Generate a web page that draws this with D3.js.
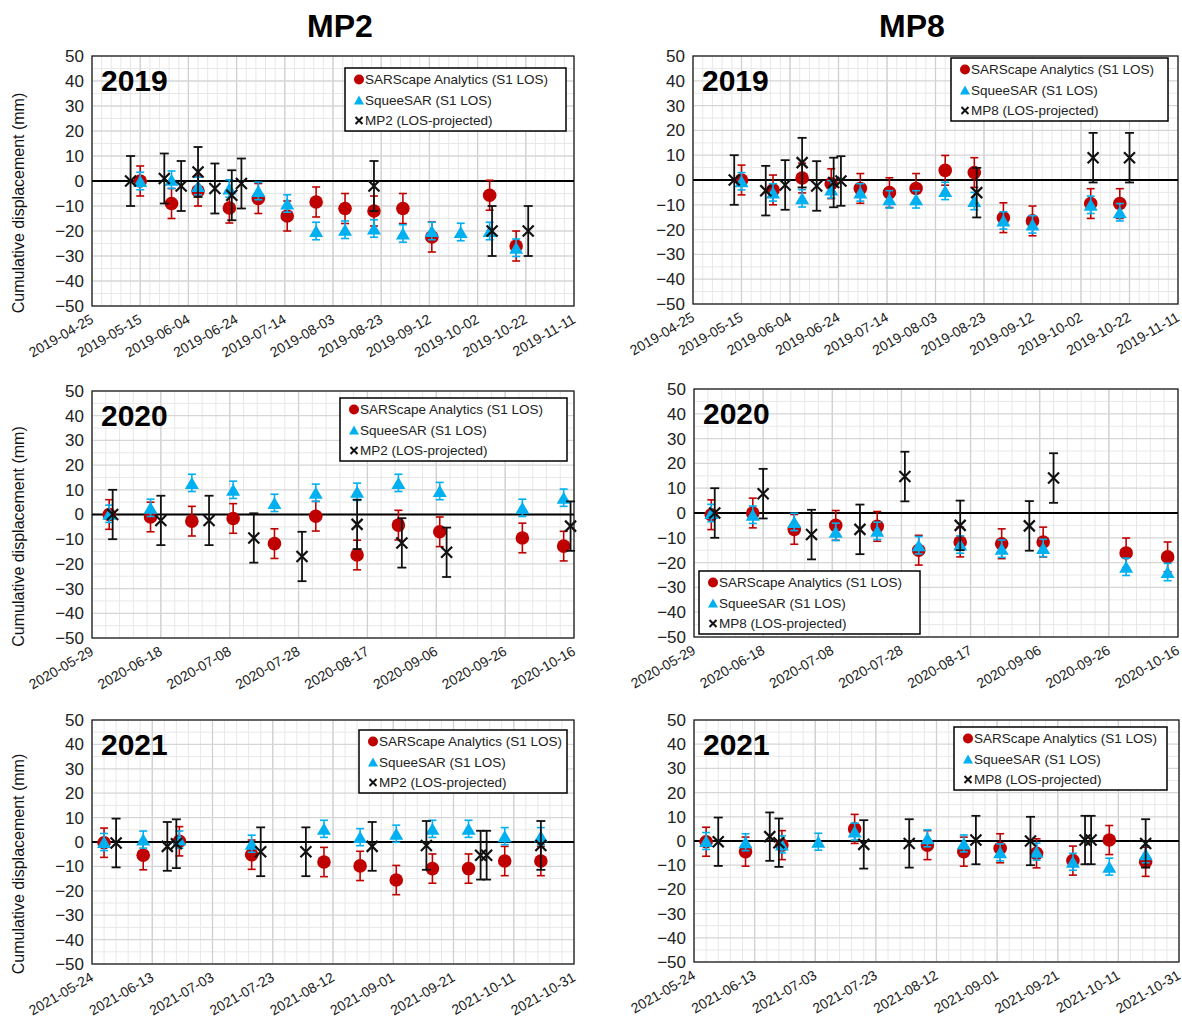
<!DOCTYPE html>
<html><head><meta charset="utf-8">
<script src="https://cdn.jsdelivr.net/npm/d3@7/dist/d3.min.js"></script>
<style>
body{margin:0;background:#fff;}
svg text{font-family:Arial,"Liberation Sans",sans-serif;}
</style></head><body>
<svg id="chart" width="1182" height="1034"></svg>
<script>
// ---- series names and error half-widths (mm) ----
const seriesLabels = ["SARScape Analytics (S1 LOS)", "SqueeSAR (S1 LOS)", "(LOS-projected)"];
const seriesErrors = [6, 3.5, 10];
const yTicks = [-50, -40, -30, -20, -10, 0, 10, 20, 30, 40, 50];

// ---- x tick labels per year ----
const ticks2019 = ["2019-04-25","2019-05-15","2019-06-04","2019-06-24","2019-07-14","2019-08-03","2019-08-23","2019-09-12","2019-10-02","2019-10-22","2019-11-11"];
const ticks2020 = ["2020-05-29","2020-06-18","2020-07-08","2020-07-28","2020-08-17","2020-09-06","2020-09-26","2020-10-16"];
const ticks2021 = ["2021-05-24","2021-06-13","2021-07-03","2021-07-23","2021-08-12","2021-09-01","2021-09-21","2021-10-11","2021-10-31"];

// ---- MP2 2019 ----
const mp2_2019_sar = [["2019-05-15",0],["2019-05-28",-9],["2019-06-08",-4],["2019-06-21",-10.8],["2019-07-03",-7],["2019-07-15",-14],["2019-07-27",-8.4],["2019-08-08",-11],["2019-08-20",-12],["2019-09-01",-11],["2019-09-13",-22.4],["2019-10-07",-5.7],["2019-10-18",-26]];
const mp2_2019_sqee = [["2019-05-15",0],["2019-05-28",0.5],["2019-06-08",-2],["2019-06-21",-3],["2019-07-03",-4],["2019-07-15",-9],["2019-07-27",-20],["2019-08-08",-19.5],["2019-08-20",-19],["2019-09-01",-21],["2019-09-13",-20],["2019-09-25",-20.4],["2019-10-07",-20],["2019-10-18",-26.7]];
const mp2_2019_los = [["2019-05-11",0],["2019-05-25",1],["2019-06-01",-2],["2019-06-08",3.6],["2019-06-15",-3],["2019-06-22",-5.7],["2019-06-26",-1],["2019-08-20",-2],["2019-10-08",-20],["2019-10-23",-20]];

// ---- MP8 2019 ----
const mp8_2019_sar = [["2019-05-15",0],["2019-05-28",-4],["2019-06-09",0.8],["2019-06-21",-1.5],["2019-07-03",-3.4],["2019-07-15",-5.1],["2019-07-26",-3.4],["2019-08-07",3.9],["2019-08-19",3],["2019-08-31",-15.2],["2019-09-12",-16.5],["2019-10-06",-9.5],["2019-10-18",-9.5]];
const mp8_2019_sqee = [["2019-05-15",-0.5],["2019-05-28",-5],["2019-06-09",-7.4],["2019-06-21",-3.8],["2019-07-03",-5],["2019-07-15",-7.8],["2019-07-26",-7.8],["2019-08-07",-4.4],["2019-08-19",-8.5],["2019-08-31",-16.3],["2019-09-12",-17.9],["2019-10-06",-10],["2019-10-18",-13]];
const mp8_2019_los = [["2019-05-12",0],["2019-05-25",-4.3],["2019-06-02",-2],["2019-06-09",7],["2019-06-15",-2.4],["2019-06-22",-1],["2019-06-25",-0.4],["2019-08-20",-5.1],["2019-10-07",9],["2019-10-22",9]];

// ---- MP2 2020 ----
const mp2_2020_sar = [["2020-06-03",0],["2020-06-15",-1],["2020-06-27",-2.7],["2020-07-09",-1.6],["2020-07-21",-11.8],["2020-08-02",-0.7],["2020-08-14",-16.4],["2020-08-26",-4.3],["2020-09-07",-7],["2020-10-01",-9.5],["2020-10-13",-12.8]];
const mp2_2020_sqee = [["2020-06-03",0.3],["2020-06-15",2.7],["2020-06-27",12.8],["2020-07-09",10],["2020-07-21",4.7],["2020-08-02",8.8],["2020-08-14",9.2],["2020-08-26",12.8],["2020-09-07",9.5],["2020-10-01",2.7],["2020-10-13",6.8]];
const mp2_2020_los = [["2020-06-04",0],["2020-06-18",-2.4],["2020-07-02",-2.4],["2020-07-15",-9.5],["2020-07-29",-17],["2020-08-14",-4],["2020-08-27",-11.5],["2020-09-09",-15.3],["2020-10-15",-4.7]];

// ---- MP8 2020 ----
const mp8_2020_sar = [["2020-06-03",-0.7],["2020-06-15",0],["2020-06-27",-6.6],["2020-07-09",-5],["2020-07-21",-5.4],["2020-08-02",-15],["2020-08-14",-11.7],["2020-08-26",-12.4],["2020-09-07",-11.7],["2020-10-01",-16.1],["2020-10-13",-17.7]];
const mp8_2020_sqee = [["2020-06-03",0],["2020-06-15",-0.7],["2020-06-27",-3.6],["2020-07-09",-7.6],["2020-07-21",-7.2],["2020-08-02",-13],["2020-08-14",-12.7],["2020-08-26",-14.4],["2020-09-07",-14.1],["2020-10-01",-21.7],["2020-10-13",-23.8]];
const mp8_2020_los = [["2020-06-04",0],["2020-06-18",7.8],["2020-07-02",-8.7],["2020-07-16",-6.6],["2020-07-29",14.7],["2020-08-14",-5],["2020-09-03",-5.2],["2020-09-10",14.1]];

// ---- MP2 2021 ----
const mp2_2021_sar = [["2021-05-28",-0.3],["2021-06-10",-5.4],["2021-06-22",0.3],["2021-07-16",-5.2],["2021-08-09",-8.2],["2021-08-21",-9.8],["2021-09-02",-15.6],["2021-09-14",-10.9],["2021-09-26",-10.9],["2021-10-08",-7.8],["2021-10-20",-7.8]];
const mp2_2021_sqee = [["2021-05-28",0],["2021-06-10",1],["2021-06-22",1],["2021-07-16",-0.7],["2021-08-09",5.4],["2021-08-21",2],["2021-09-02",3.4],["2021-09-14",5.4],["2021-09-26",5.4],["2021-10-08",2.4],["2021-10-20",2.4]];
const mp2_2021_los = [["2021-06-01",-0.4],["2021-06-18",-1.8],["2021-06-21",-0.7],["2021-07-19",-4],["2021-08-03",-4],["2021-08-25",-1.8],["2021-09-12",-1.4],["2021-09-30",-5.4],["2021-10-02",-5.4],["2021-10-20",-1.4]];

// ---- MP8 2021 ----
const mp8_2021_sar = [["2021-05-28",-0.3],["2021-06-10",-4.4],["2021-06-22",-1.7],["2021-07-16",5],["2021-08-09",-1.7],["2021-08-21",-4.4],["2021-09-02",-3],["2021-09-14",-5.1],["2021-09-26",-8.1],["2021-10-08",0.4],["2021-10-20",-8.6]];
const mp8_2021_sqee = [["2021-05-28",0],["2021-06-10",-0.5],["2021-06-22",-1.4],["2021-07-04",-0.3],["2021-07-16",3.9],["2021-08-09",1.1],["2021-08-21",-1],["2021-09-02",-4.7],["2021-09-14",-4.4],["2021-09-26",-8.6],["2021-10-08",-10.6],["2021-10-20",-5.5]];
const mp8_2021_los = [["2021-06-01",-0.3],["2021-06-18",1.8],["2021-06-21",-0.7],["2021-07-19",-1.4],["2021-08-03",-1],["2021-08-25",0.4],["2021-09-12",0],["2021-09-30",0.4],["2021-10-02",0.4],["2021-10-20",-1]];

// ---- layout ----
const parse = d3.timeParse("%Y-%m-%d");
const C_RED = "#c00000", C_BLUE = "#00b0f0", C_BLACK = "#111";
const svg = d3.select("#chart");

const panels = [
  {pt:"MP2", year:"2019", ticks:ticks2019, data:[mp2_2019_sar,mp2_2019_sqee,mp2_2019_los], box:[92,56,574,306], legend:[345,68,221], yTitle:true},
  {pt:"MP8", year:"2019", ticks:ticks2019, data:[mp8_2019_sar,mp8_2019_sqee,mp8_2019_los], box:[693,56,1178,304], legend:[951,58,217], yTitle:false},
  {pt:"MP2", year:"2020", ticks:ticks2020, data:[mp2_2020_sar,mp2_2020_sqee,mp2_2020_los], box:[92,391,574,638], legend:[340,398,227], yTitle:true},
  {pt:"MP8", year:"2020", ticks:ticks2020, data:[mp8_2020_sar,mp8_2020_sqee,mp8_2020_los], box:[694,389,1178,637], legend:[699,571,221], yTitle:false},
  {pt:"MP2", year:"2021", ticks:ticks2021, data:[mp2_2021_sar,mp2_2021_sqee,mp2_2021_los], box:[92,720,574,964], legend:[359,730,208], yTitle:true},
  {pt:"MP8", year:"2021", ticks:ticks2021, data:[mp8_2021_sar,mp8_2021_sqee,mp8_2021_los], box:[694,720,1179,962], legend:[954,727,213], yTitle:false}
];

function triPath(w, h) {
  return `M0,${-h/2}L${w/2},${h/2}L${-w/2},${h/2}Z`;
}

function drawPanel(p) {
  const [x0, y0, x1, y1] = p.box;
  const g = svg.append("g");
  const tickDates = p.ticks.map(parse);
  const x = d3.scaleTime().domain([tickDates[0], tickDates[tickDates.length - 1]]).range([x0, x1]);
  const y = d3.scaleLinear().domain([-50, 50]).range([y1, y0]);

  // minor grid: every 4 days and every 5 mm
  const minorX = d3.timeDay.range(tickDates[0], d3.timeDay.offset(tickDates[tickDates.length - 1], 1), 4);
  const minorY = d3.range(-45, 50, 10);
  g.append("g").selectAll("line").data(minorX).join("line")
    .attr("x1", d => x(d)).attr("x2", d => x(d)).attr("y1", y0).attr("y2", y1)
    .attr("stroke", "#e8e8e8").attr("stroke-width", 1);
  g.append("g").selectAll("line").data(minorY).join("line")
    .attr("x1", x0).attr("x2", x1).attr("y1", d => y(d)).attr("y2", d => y(d))
    .attr("stroke", "#e8e8e8").attr("stroke-width", 1);
  // major grid
  g.append("g").selectAll("line").data(tickDates).join("line")
    .attr("x1", d => x(d)).attr("x2", d => x(d)).attr("y1", y0).attr("y2", y1)
    .attr("stroke", "#d0d0d0").attr("stroke-width", 1.3);
  g.append("g").selectAll("line").data(yTicks).join("line")
    .attr("x1", x0).attr("x2", x1).attr("y1", d => y(d)).attr("y2", d => y(d))
    .attr("stroke", "#d6d6d6").attr("stroke-width", 1.3);

  // frame
  g.append("rect").attr("x", x0).attr("y", y0).attr("width", x1 - x0).attr("height", y1 - y0)
    .attr("fill", "none").attr("stroke", "#222").attr("stroke-width", 1.3);

  // zero line
  g.append("line").attr("x1", x0).attr("x2", x1).attr("y1", y(0)).attr("y2", y(0))
    .attr("stroke", "#000").attr("stroke-width", 2.2);

  // y axis
  const ya = g.append("g").attr("transform", `translate(${x0},0)`)
    .call(d3.axisLeft(y).tickValues(yTicks).tickSize(0).tickPadding(8));
  ya.select(".domain").remove();
  ya.selectAll("text").attr("font-size", 17).attr("fill", "#222")
    .attr("font-family", "Arial, 'Liberation Sans', sans-serif");

  // x axis
  const xa = g.append("g").attr("transform", `translate(0,${y1})`)
    .call(d3.axisBottom(x).tickValues(tickDates).tickFormat(d3.timeFormat("%Y-%m-%d")).tickSize(0).tickPadding(0));
  xa.select(".domain").remove();
  xa.selectAll("text").attr("font-size", 14).attr("fill", "#222")
    .attr("font-family", "Arial, 'Liberation Sans', sans-serif")
    .attr("text-anchor", "end").attr("dy", null).attr("y", 0)
    .attr("transform", "translate(2,16) rotate(-30)");

  // y title
  if (p.yTitle) {
    svg.append("text").attr("transform", `translate(24,${(y0 + y1) / 2 + 22}) rotate(-90)`)
      .attr("text-anchor", "middle").attr("font-size", 16).attr("fill", "#111")
      .text("Cumulative displacement (mm)");
  }

  // year label
  g.append("text").attr("x", x0 + 9).attr("y", y0 + 35).attr("font-size", 30)
    .attr("font-weight", "bold").attr("fill", "#000").text(p.year);

  const pts = p.data.map(s => s.map(([d, v]) => ({d: parse(d), v})));
  const colors = [C_RED, C_BLUE, C_BLACK];
  const capW = [4, 4, 4.5];

  function errorBars(i) {
    const e = seriesErrors[i];
    const eg = g.append("g").attr("stroke", colors[i]).attr("stroke-width", i === 2 ? 1.8 : 1.6);
    eg.selectAll("line.v").data(pts[i]).join("line")
      .attr("x1", d => x(d.d)).attr("x2", d => x(d.d)).attr("y1", d => y(d.v - e)).attr("y2", d => y(d.v + e));
    eg.selectAll("line.t").data(pts[i]).join("line")
      .attr("x1", d => x(d.d) - capW[i]).attr("x2", d => x(d.d) + capW[i]).attr("y1", d => y(d.v + e)).attr("y2", d => y(d.v + e));
    eg.selectAll("line.b").data(pts[i]).join("line")
      .attr("x1", d => x(d.d) - capW[i]).attr("x2", d => x(d.d) + capW[i]).attr("y1", d => y(d.v - e)).attr("y2", d => y(d.v - e));
  }

  // SARScape
  errorBars(0);
  g.append("g").selectAll("circle").data(pts[0]).join("circle")
    .attr("cx", d => x(d.d)).attr("cy", d => y(d.v)).attr("r", 6.8).attr("fill", C_RED);
  // SqueeSAR
  errorBars(1);
  g.append("g").selectAll("path").data(pts[1]).join("path")
    .attr("d", triPath(14, 12)).attr("transform", d => `translate(${x(d.d)},${y(d.v)})`).attr("fill", C_BLUE);
  // LOS-projected
  errorBars(2);
  const xs = 5.5;
  g.append("g").selectAll("path").data(pts[2]).join("path")
    .attr("d", `M${-xs},${-xs}L${xs},${xs}M${-xs},${xs}L${xs},${-xs}`)
    .attr("transform", d => `translate(${x(d.d)},${y(d.v)})`)
    .attr("stroke", C_BLACK).attr("stroke-width", 2.2).attr("fill", "none");

  // legend
  const [lx, ly, lw] = p.legend;
  const lg = g.append("g");
  lg.append("rect").attr("x", lx).attr("y", ly).attr("width", lw).attr("height", 63)
    .attr("fill", "#fff").attr("stroke", "#000").attr("stroke-width", 1.5);
  const rowY = [ly + 11.5, ly + 32, ly + 52.5];
  const mx = lx + 14, tx = lx + 20;
  lg.append("circle").attr("cx", mx).attr("cy", rowY[0]).attr("r", 5).attr("fill", C_RED);
  lg.append("path").attr("d", triPath(10, 9)).attr("transform", `translate(${mx},${rowY[1]})`).attr("fill", C_BLUE);
  lg.append("path").attr("d", "M-3.5,-3.5L3.5,3.5M-3.5,3.5L3.5,-3.5")
    .attr("transform", `translate(${mx},${rowY[2]})`).attr("stroke", C_BLACK).attr("stroke-width", 2);
  const labels = [seriesLabels[0], seriesLabels[1], p.pt + " " + seriesLabels[2]];
  lg.selectAll("text").data(labels).join("text")
    .attr("x", tx).attr("y", (d, i) => rowY[i]).attr("dy", "0.35em")
    .attr("font-size", 13.5).attr("fill", "#222").text(d => d);
}

panels.forEach(drawPanel);

// column titles
svg.append("text").attr("x", 340).attr("y", 37).attr("text-anchor", "middle")
  .attr("font-size", 32).attr("font-weight", "bold").text("MP2");
svg.append("text").attr("x", 912).attr("y", 37).attr("text-anchor", "middle")
  .attr("font-size", 32).attr("font-weight", "bold").text("MP8");
</script>
</body></html>
